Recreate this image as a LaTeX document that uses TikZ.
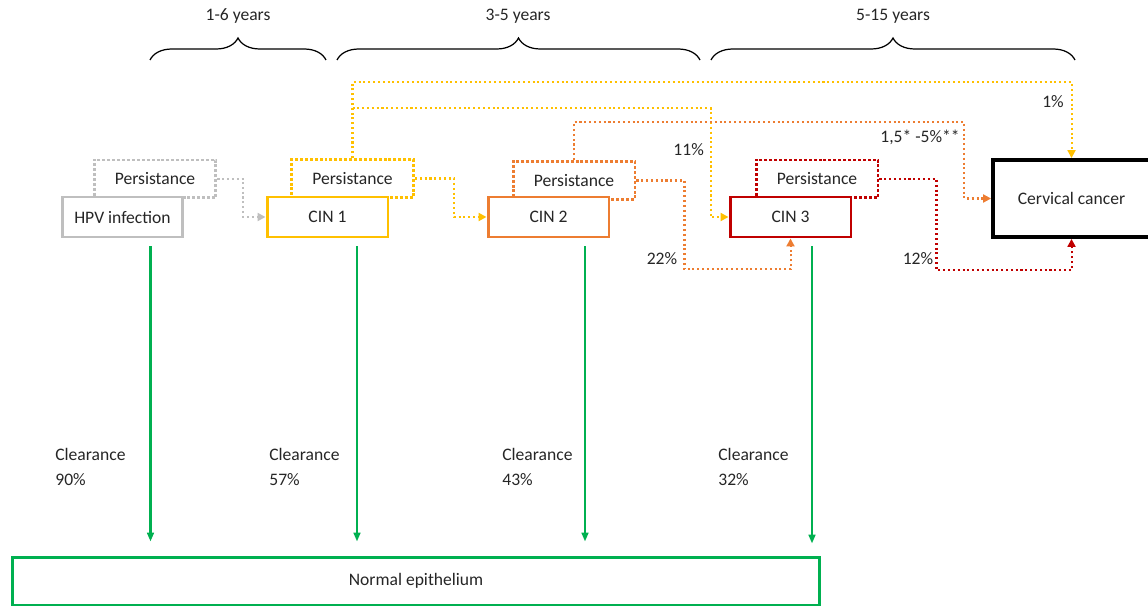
\documentclass[tikz,border=0pt]{standalone}
\usepackage{fontspec}
\setmainfont{Carlito}
\usepackage{xcolor}
\usepackage{tikz}
\usetikzlibrary{arrows.meta, positioning, calc, decorations.pathreplacing}
\definecolor{hpvgray}{HTML}{BFBFBF}
\definecolor{cinyellow}{HTML}{FFC000}
\definecolor{cinorange}{HTML}{ED7D31}
\definecolor{cinred}{HTML}{C00000}
\definecolor{normgreen}{HTML}{00B050}

\begin{document}
\begin{tikzpicture}[
    x=0.02cm, y=-0.02cm,
    font=\fontsize{10}{12}\selectfont, text=black!85,
    stagebox/.style={draw, fill=white, line width=1.7pt, minimum width=2.42cm, minimum height=0.8cm, inner sep=0pt},
    persbox/.style={draw, fill=white, line width=1.7pt, dash pattern=on 1.7pt off 1.1pt, minimum width=2.44cm, minimum height=0.76cm, inner sep=0pt},
    link/.style={line width=1.15pt, dash pattern=on 1.15pt off 1.6pt, -{Triangle[length=4.5pt, width=4.5pt]}},
    clear/.style={draw=normgreen, line width=1.3pt, -{Triangle[length=5pt, width=3.8pt]}},
    period/.style={decorate, decoration={brace, amplitude=0.44cm}, line width=0.7pt},
    cltext/.style={anchor=west, align=left, inner sep=0pt, font=\fontsize{10}{14.7}\selectfont},
]
    \useasboundingbox (0,0) rectangle (1148,607);

    % Time spans
    \node (yr1) at (238,16) {1-6 years};
    \node (yr2) at (518,16) {3-5 years};
    \node (yr3) at (893,16) {5-15 years};
    \draw[period] (150,60) -- (326,60);
    \draw[period] (337,60) -- (700,60);
    \draw[period] (711,60) -- (1075,60);

    % Stages with persistance
    \node[persbox, draw=hpvgray] (hpvp) at (155,179) {Persistance};
    \node[stagebox, draw=hpvgray] (hpv) at (122.5,217) {HPV infection};
    \node[persbox, draw=cinyellow] (cin1p) at (352.5,178.5) {Persistance};
    \node[stagebox, draw=cinyellow] (cin1) at (327.5,217) {CIN 1};
    \node[persbox, draw=cinorange] (cin2p) at (574,180.5) {Persistance};
    \node[stagebox, draw=cinorange] (cin2) at (548.5,217) {CIN 2};
    \node[persbox, draw=cinred] (cin3p) at (817,179) {Persistance};
    \node[stagebox, draw=cinred] (cin3) at (790.5,217) {CIN 3};
    \node[stagebox, draw=black, line width=2.2pt,
          minimum width=3.14cm, minimum height=1.54cm] (cancer) at (1071.5,198.5) {Cervical cancer};
    \node[stagebox, draw=normgreen, minimum width=16.16cm,
          minimum height=0.96cm] (norm) at (416,581) {Normal epithelium};

    % Progression
    \draw[link, draw=hpvgray] (hpvp.east) -- ++(26,0) |- (cin1.west);
    \draw[link, draw=cinyellow] (cin1p.east) -- ++(39,0) |- (cin2.west);
    \draw[link, draw=cinyellow] (cin1p.north) -- ++(0,-76) -| (cancer.north);
    \coordinate (split) at ($(cin1p.north)+(0,-50)$);
    \draw[link, draw=cinyellow] (split) -| ([xshift=-0.36cm]cin3.west) -- (cin3.west);
    \draw[link, draw=cinorange] (cin2p.north) -- ++(0,-38) -| ([xshift=-0.54cm]cancer.west) -- (cancer.west);
    \draw[link, draw=cinorange] (cin2p.east) -- ++(48,0) |- ([yshift=-0.62cm]cin3.south) -- (cin3.south);
    \draw[link, draw=cinred] (cin3p.east) -- ++(57,0) |- ([yshift=-0.62cm]cancer.south) -- (cancer.south);

    \node (p1) at (1053,102) {1\%};
    \node[anchor=east] (p11) at (710,150) {11\%};
    \node (p15) at (920,137) {1,5* -5\%**};
    \node (p22) at (662,259) {22\%};
    \node (p12) at (918,259) {12\%};

    % Clearance
    \draw[clear] ([xshift=0.56cm, yshift=-0.16cm]hpv.south) coordinate (g1) -- ($(g1 |- norm.north)+(0,-14)$);
    \draw[clear] ([xshift=0.59cm, yshift=-0.16cm]cin1.south) coordinate (g2) -- ($(g2 |- norm.north)+(0,-14)$);
    \draw[clear] ([xshift=0.73cm, yshift=-0.16cm]cin2.south) coordinate (g3) -- ($(g3 |- norm.north)+(0,-14)$);
    \draw[clear] ([xshift=0.43cm, yshift=-0.16cm]cin3.south) coordinate (g4) -- ($(g4 |- norm.north)+(0,-12)$);

    \node[cltext] (cl1) at (55,467) {Clearance\\90\%};
    \node[cltext] (cl2) at (269,467) {Clearance\\57\%};
    \node[cltext] (cl3) at (502,467) {Clearance\\43\%};
    \node[cltext] (cl4) at (718,467) {Clearance\\32\%};
\end{tikzpicture}
\end{document}
